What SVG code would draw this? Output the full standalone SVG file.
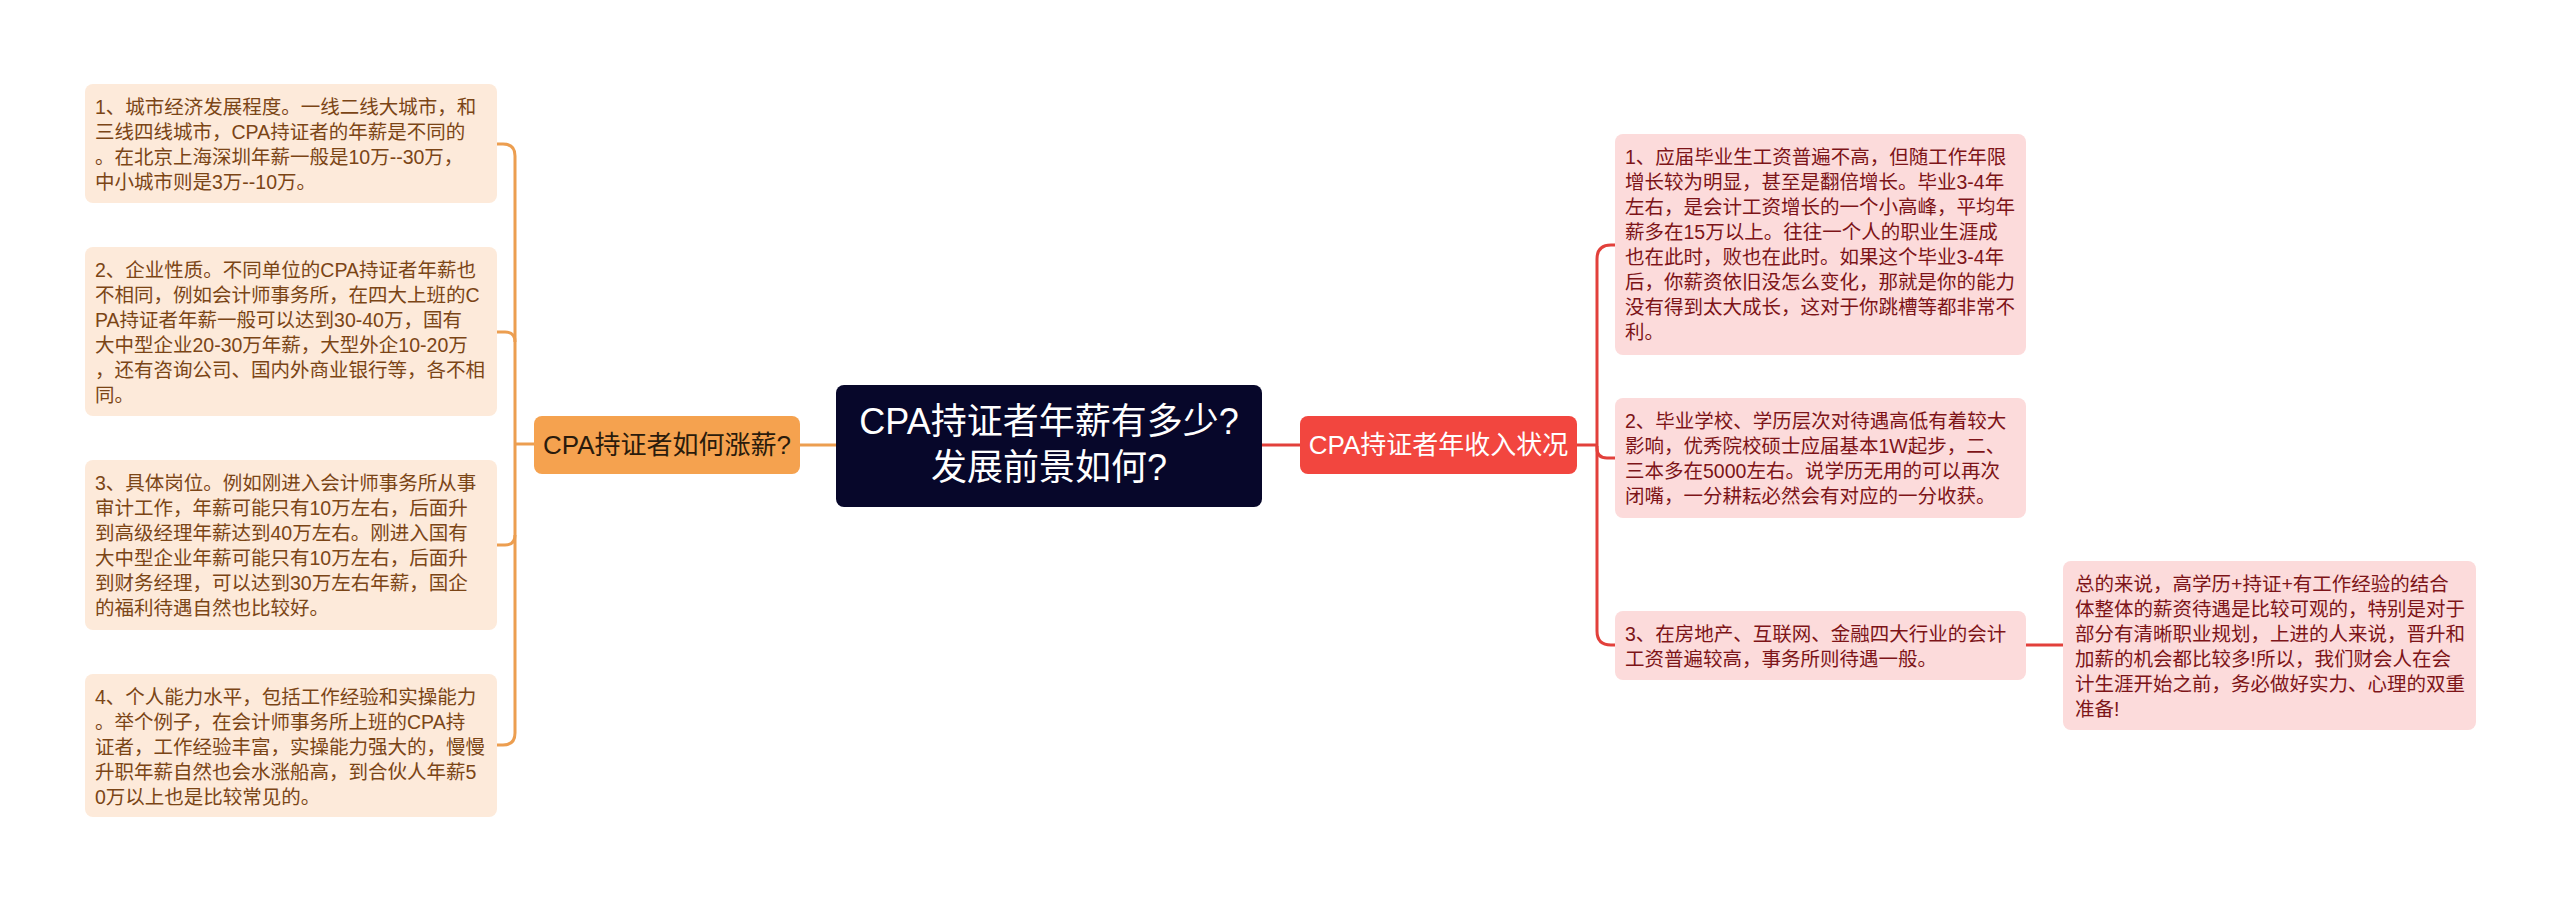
<svg xmlns="http://www.w3.org/2000/svg" width="2560" height="903" viewBox="0 0 2560 903">
<style>
text{font-family:"Liberation Sans","Noto Sans CJK SC",sans-serif;}
.lbox{fill:#FDEADA;}
.rbox{fill:#FCDBDB;}
.lt{font-size:19.5px;fill:#7B4516;}
.rt{font-size:19.5px;fill:#7D1418;}
.ol{fill:none;stroke:#EC9E50;stroke-width:3;}
.rl{fill:none;stroke:#E2403B;stroke-width:3;}
</style>
<rect width="2560" height="903" fill="#FFFFFF"/>
<g id="connectors">
<path class="ol" d="M836,445 H800"/>
<path class="ol" d="M534,444 H515"/>
<path class="ol" d="M497,144 H503 Q515,144 515,156 V733 Q515,745 503,745 H497"/>
<path class="ol" d="M497,332 H505 Q515,332 515,342"/>
<path class="ol" d="M497,545 H505 Q515,545 515,535"/>
<path class="rl" d="M1262,445 H1300"/>
<path class="rl" d="M1577,445 H1597"/>
<path class="rl" d="M1615,245 H1611 Q1597,245 1597,259 V631 Q1597,645 1611,645 H1615"/>
<path class="rl" d="M1597,446 V448 Q1597,458 1607,458 H1615"/>
<path class="rl" d="M2026,645 H2063"/>
</g>
<g id="center">
<rect x="836" y="385" width="426" height="122" rx="8" fill="#07072A"/>
<text x="1049" y="434" font-size="36" fill="#FFFFFF" text-anchor="middle">CPA持证者年薪有多少?</text>
<text x="1049" y="480" font-size="36" fill="#FFFFFF" text-anchor="middle">发展前景如何?</text>
</g>
<g id="branch-left">
<rect x="534" y="416" width="266" height="58" rx="8" fill="#F5A24F"/>
<text x="667" y="454" font-size="26" fill="#2A1B0C" text-anchor="middle">CPA持证者如何涨薪?</text>
</g>
<g id="branch-right">
<rect x="1300" y="416" width="277" height="58" rx="8" fill="#F2463F"/>
<text x="1438.5" y="454" font-size="26" fill="#FFFFFF" text-anchor="middle">CPA持证者年收入状况</text>
</g>
<g id="left-1">
<rect class="lbox" x="85" y="84" width="412" height="119" rx="8"/>
<text class="lt" x="95" y="114">1、城市经济发展程度。一线二线大城市，和</text>
<text class="lt" x="95" y="139">三线四线城市，CPA持证者的年薪是不同的</text>
<text class="lt" x="95" y="164">。在北京上海深圳年薪一般是10万--30万，</text>
<text class="lt" x="95" y="189">中小城市则是3万--10万。</text>
</g>
<g id="left-2">
<rect class="lbox" x="85" y="247" width="412" height="169" rx="8"/>
<text class="lt" x="95" y="277">2、企业性质。不同单位的CPA持证者年薪也</text>
<text class="lt" x="95" y="302">不相同，例如会计师事务所，在四大上班的C</text>
<text class="lt" x="95" y="327">PA持证者年薪一般可以达到30-40万，国有</text>
<text class="lt" x="95" y="352">大中型企业20-30万年薪，大型外企10-20万</text>
<text class="lt" x="95" y="377">，还有咨询公司、国内外商业银行等，各不相</text>
<text class="lt" x="95" y="402">同。</text>
</g>
<g id="left-3">
<rect class="lbox" x="85" y="460" width="412" height="170" rx="8"/>
<text class="lt" x="95" y="490">3、具体岗位。例如刚进入会计师事务所从事</text>
<text class="lt" x="95" y="515">审计工作，年薪可能只有10万左右，后面升</text>
<text class="lt" x="95" y="540">到高级经理年薪达到40万左右。刚进入国有</text>
<text class="lt" x="95" y="565">大中型企业年薪可能只有10万左右，后面升</text>
<text class="lt" x="95" y="590">到财务经理，可以达到30万左右年薪，国企</text>
<text class="lt" x="95" y="615">的福利待遇自然也比较好。</text>
</g>
<g id="left-4">
<rect class="lbox" x="85" y="674" width="412" height="143" rx="8"/>
<text class="lt" x="95" y="704">4、个人能力水平，包括工作经验和实操能力</text>
<text class="lt" x="95" y="729">。举个例子，在会计师事务所上班的CPA持</text>
<text class="lt" x="95" y="754">证者，工作经验丰富，实操能力强大的，慢慢</text>
<text class="lt" x="95" y="779">升职年薪自然也会水涨船高，到合伙人年薪5</text>
<text class="lt" x="95" y="804">0万以上也是比较常见的。</text>
</g>
<g id="right-1">
<rect class="rbox" x="1615" y="134" width="411" height="221" rx="8"/>
<text class="rt" x="1625" y="164">1、应届毕业生工资普遍不高，但随工作年限</text>
<text class="rt" x="1625" y="189">增长较为明显，甚至是翻倍增长。毕业3-4年</text>
<text class="rt" x="1625" y="214">左右，是会计工资增长的一个小高峰，平均年</text>
<text class="rt" x="1625" y="239">薪多在15万以上。往往一个人的职业生涯成</text>
<text class="rt" x="1625" y="264">也在此时，败也在此时。如果这个毕业3-4年</text>
<text class="rt" x="1625" y="289">后，你薪资依旧没怎么变化，那就是你的能力</text>
<text class="rt" x="1625" y="314">没有得到太大成长，这对于你跳槽等都非常不</text>
<text class="rt" x="1625" y="339">利。</text>
</g>
<g id="right-2">
<rect class="rbox" x="1615" y="398" width="411" height="120" rx="8"/>
<text class="rt" x="1625" y="428">2、毕业学校、学历层次对待遇高低有着较大</text>
<text class="rt" x="1625" y="453">影响，优秀院校硕士应届基本1W起步，二、</text>
<text class="rt" x="1625" y="478">三本多在5000左右。说学历无用的可以再次</text>
<text class="rt" x="1625" y="503">闭嘴，一分耕耘必然会有对应的一分收获。</text>
</g>
<g id="right-3">
<rect class="rbox" x="1615" y="611" width="411" height="69" rx="8"/>
<text class="rt" x="1625" y="641">3、在房地产、互联网、金融四大行业的会计</text>
<text class="rt" x="1625" y="666">工资普遍较高，事务所则待遇一般。</text>
</g>
<g id="summary">
<rect class="rbox" x="2063" y="561" width="413" height="169" rx="8"/>
<text class="rt" x="2075" y="591">总的来说，高学历+持证+有工作经验的结合</text>
<text class="rt" x="2075" y="616">体整体的薪资待遇是比较可观的，特别是对于</text>
<text class="rt" x="2075" y="641">部分有清晰职业规划，上进的人来说，晋升和</text>
<text class="rt" x="2075" y="666">加薪的机会都比较多!所以，我们财会人在会</text>
<text class="rt" x="2075" y="691">计生涯开始之前，务必做好实力、心理的双重</text>
<text class="rt" x="2075" y="716">准备!</text>
</g>
</svg>
